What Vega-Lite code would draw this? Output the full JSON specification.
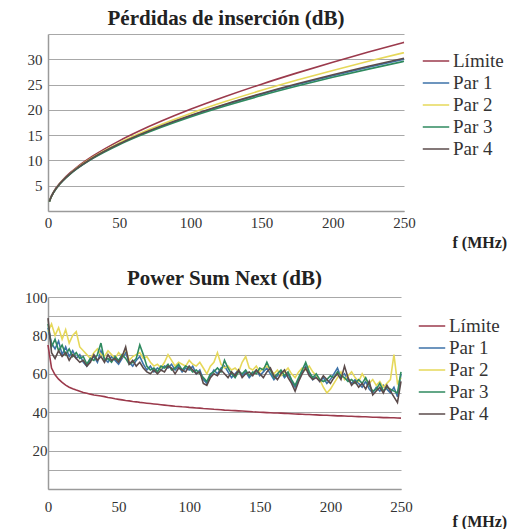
{
  "$schema": "https://vega.github.io/schema/vega-lite/v6.json",
  "background": "white",
  "padding": {"left": 24, "top": 8, "right": 0, "bottom": 0},
  "spacing": 18,
  "config": {
    "font": "Liberation Serif, Times New Roman, serif",
    "view": {"stroke": null},
    "axis": {"labelFont": "Liberation Serif, Times New Roman, serif", "labelFontSize": 15, "labelColor": "#333333", "domainColor": "#9a9a9a", "domainWidth": 1.5, "gridColor": "#a8a8a8", "gridWidth": 1.2, "ticks": false, "titleFont": "Liberation Serif, Times New Roman, serif", "titleColor": "#222222"},
    "legend": {"labelFont": "Liberation Serif, Times New Roman, serif", "labelFontSize": 19, "labelColor": "#333333", "symbolType": "stroke", "symbolStrokeWidth": 1.5},
    "title": {"font": "Liberation Serif, Times New Roman, serif", "fontSize": 21, "fontWeight": "bold", "color": "#222222"}
  },
  "resolve": {"legend": {"color": "independent"}},
  "datasets": {
    "il": [
      {"f": 1, "Límite": 2.06, "Par 1": 1.85, "Par 2": 1.85, "Par 3": 1.84, "Par 4": 1.86},
      {"f": 2, "Límite": 2.77, "Par 1": 2.62, "Par 2": 2.63, "Par 3": 2.61, "Par 4": 2.63},
      {"f": 4, "Límite": 3.84, "Par 1": 3.71, "Par 2": 3.72, "Par 3": 3.69, "Par 4": 3.72},
      {"f": 8, "Límite": 5.40, "Par 1": 5.26, "Par 2": 5.29, "Par 3": 5.22, "Par 4": 5.28},
      {"f": 10, "Límite": 6.04, "Par 1": 5.88, "Par 2": 5.92, "Par 3": 5.84, "Par 4": 5.90},
      {"f": 16, "Límite": 7.67, "Par 1": 7.45, "Par 2": 7.51, "Par 3": 7.39, "Par 4": 7.48},
      {"f": 20, "Límite": 8.60, "Par 1": 8.33, "Par 2": 8.42, "Par 3": 8.27, "Par 4": 8.37},
      {"f": 31.25, "Límite": 10.83, "Par 1": 10.44, "Par 2": 10.58, "Par 3": 10.35, "Par 4": 10.48},
      {"f": 50, "Límite": 13.87, "Par 1": 13.23, "Par 2": 13.47, "Par 3": 13.11, "Par 4": 13.29},
      {"f": 62.5, "Límite": 15.61, "Par 1": 14.81, "Par 2": 15.12, "Par 3": 14.67, "Par 4": 14.88},
      {"f": 100, "Límite": 20.10, "Par 1": 18.80, "Par 2": 19.30, "Par 3": 18.60, "Par 4": 18.90},
      {"f": 125, "Límite": 22.69, "Par 1": 21.06, "Par 2": 21.69, "Par 3": 20.82, "Par 4": 21.18},
      {"f": 150, "Límite": 25.08, "Par 1": 23.11, "Par 2": 23.87, "Par 3": 22.84, "Par 4": 23.24},
      {"f": 175, "Límite": 27.31, "Par 1": 25.00, "Par 2": 25.90, "Par 3": 24.70, "Par 4": 25.15},
      {"f": 200, "Límite": 29.42, "Par 1": 26.76, "Par 2": 27.80, "Par 3": 26.43, "Par 4": 26.93},
      {"f": 225, "Límite": 31.42, "Par 1": 28.43, "Par 2": 29.60, "Par 3": 28.06, "Par 4": 28.61},
      {"f": 250, "Límite": 33.34, "Par 1": 30.00, "Par 2": 31.31, "Par 3": 29.60, "Par 4": 30.21}
    ],
    "psn": [
      {"f": 0, "Límite": 75, "Par 1": 84, "Par 2": 82, "Par 3": 86, "Par 4": 89},
      {"f": 2.5, "Límite": 63, "Par 1": 76, "Par 2": 86, "Par 3": 74, "Par 4": 71},
      {"f": 5, "Límite": 59.5, "Par 1": 73, "Par 2": 80, "Par 3": 78, "Par 4": 68},
      {"f": 7.5, "Límite": 57.2, "Par 1": 77, "Par 2": 84, "Par 3": 72, "Par 4": 72},
      {"f": 10, "Límite": 55.5, "Par 1": 70, "Par 2": 78, "Par 3": 75, "Par 4": 69},
      {"f": 12.5, "Límite": 54.1, "Par 1": 74, "Par 2": 83, "Par 3": 70, "Par 4": 71},
      {"f": 15, "Límite": 53.0, "Par 1": 69, "Par 2": 76, "Par 3": 73, "Par 4": 67},
      {"f": 17.5, "Límite": 52.2, "Par 1": 72, "Par 2": 80, "Par 3": 69, "Par 4": 70},
      {"f": 20, "Límite": 51.5, "Par 1": 68, "Par 2": 82, "Par 3": 71, "Par 4": 68},
      {"f": 22.5, "Límite": 50.9, "Par 1": 70, "Par 2": 74, "Par 3": 68, "Par 4": 66},
      {"f": 25, "Límite": 50.3, "Par 1": 66, "Par 2": 72, "Par 3": 69, "Par 4": 67},
      {"f": 27.5, "Límite": 49.9, "Par 1": 64, "Par 2": 70, "Par 3": 65, "Par 4": 64},
      {"f": 30, "Límite": 49.4, "Par 1": 67, "Par 2": 68, "Par 3": 68, "Par 4": 66},
      {"f": 32.5, "Límite": 49.0, "Par 1": 69, "Par 2": 71, "Par 3": 67, "Par 4": 70},
      {"f": 35, "Límite": 48.7, "Par 1": 66, "Par 2": 73, "Par 3": 70, "Par 4": 67},
      {"f": 37.5, "Límite": 48.4, "Par 1": 72, "Par 2": 70, "Par 3": 76, "Par 4": 69},
      {"f": 40, "Límite": 48.1, "Par 1": 68, "Par 2": 69, "Par 3": 67, "Par 4": 66},
      {"f": 42.5, "Límite": 47.7, "Par 1": 66, "Par 2": 72, "Par 3": 68, "Par 4": 70},
      {"f": 45, "Límite": 47.4, "Par 1": 69, "Par 2": 70, "Par 3": 66, "Par 4": 67},
      {"f": 47.5, "Límite": 47.0, "Par 1": 67, "Par 2": 68, "Par 3": 69, "Par 4": 68},
      {"f": 50, "Límite": 46.7, "Par 1": 65, "Par 2": 71, "Par 3": 67, "Par 4": 66},
      {"f": 52.5, "Límite": 46.4, "Par 1": 68, "Par 2": 69, "Par 3": 70, "Par 4": 69},
      {"f": 55, "Límite": 46.1, "Par 1": 71, "Par 2": 73, "Par 3": 68, "Par 4": 74},
      {"f": 57.5, "Límite": 45.9, "Par 1": 66, "Par 2": 67, "Par 3": 65, "Par 4": 65},
      {"f": 60, "Límite": 45.6, "Par 1": 64, "Par 2": 69, "Par 3": 66, "Par 4": 67},
      {"f": 62.5, "Límite": 45.4, "Par 1": 67, "Par 2": 70, "Par 3": 68, "Par 4": 64},
      {"f": 65, "Límite": 45.1, "Par 1": 69, "Par 2": 71, "Par 3": 75, "Par 4": 66},
      {"f": 67.5, "Límite": 44.9, "Par 1": 65, "Par 2": 68, "Par 3": 70, "Par 4": 63},
      {"f": 70, "Límite": 44.7, "Par 1": 62, "Par 2": 69, "Par 3": 64, "Par 4": 61},
      {"f": 72.5, "Límite": 44.5, "Par 1": 64, "Par 2": 66, "Par 3": 62, "Par 4": 60},
      {"f": 75, "Límite": 44.3, "Par 1": 61, "Par 2": 64, "Par 3": 63, "Par 4": 62},
      {"f": 77.5, "Límite": 44.1, "Par 1": 63, "Par 2": 65, "Par 3": 61, "Par 4": 60},
      {"f": 80, "Límite": 43.9, "Par 1": 62, "Par 2": 63, "Par 3": 64, "Par 4": 62},
      {"f": 82.5, "Límite": 43.7, "Par 1": 64, "Par 2": 66, "Par 3": 63, "Par 4": 61},
      {"f": 85, "Límite": 43.5, "Par 1": 63, "Par 2": 70, "Par 3": 65, "Par 4": 64},
      {"f": 87.5, "Límite": 43.3, "Par 1": 65, "Par 2": 67, "Par 3": 62, "Par 4": 63},
      {"f": 90, "Límite": 43.1, "Par 1": 62, "Par 2": 64, "Par 3": 63, "Par 4": 60},
      {"f": 92.5, "Límite": 43.0, "Par 1": 64, "Par 2": 66, "Par 3": 65, "Par 4": 63},
      {"f": 95, "Límite": 42.8, "Par 1": 61, "Par 2": 65, "Par 3": 62, "Par 4": 62},
      {"f": 97.5, "Límite": 42.7, "Par 1": 63, "Par 2": 64, "Par 3": 64, "Par 4": 61},
      {"f": 100, "Límite": 42.5, "Par 1": 62, "Par 2": 67, "Par 3": 63, "Par 4": 64},
      {"f": 102.5, "Límite": 42.4, "Par 1": 64, "Par 2": 65, "Par 3": 61, "Par 4": 62},
      {"f": 105, "Límite": 42.2, "Par 1": 60, "Par 2": 64, "Par 3": 62, "Par 4": 60},
      {"f": 107.5, "Límite": 42.1, "Par 1": 62, "Par 2": 66, "Par 3": 60, "Par 4": 61},
      {"f": 110, "Límite": 41.9, "Par 1": 57, "Par 2": 63, "Par 3": 58, "Par 4": 55},
      {"f": 112.5, "Límite": 41.8, "Par 1": 55, "Par 2": 60, "Par 3": 56, "Par 4": 54},
      {"f": 115, "Límite": 41.7, "Par 1": 59, "Par 2": 64, "Par 3": 60, "Par 4": 58},
      {"f": 117.5, "Límite": 41.5, "Par 1": 62, "Par 2": 66, "Par 3": 61, "Par 4": 60},
      {"f": 120, "Límite": 41.4, "Par 1": 60, "Par 2": 71, "Par 3": 63, "Par 4": 59},
      {"f": 122.5, "Límite": 41.3, "Par 1": 63, "Par 2": 65, "Par 3": 61, "Par 4": 62},
      {"f": 125, "Límite": 41.1, "Par 1": 64, "Par 2": 63, "Par 3": 67, "Par 4": 60},
      {"f": 127.5, "Límite": 41.0, "Par 1": 61, "Par 2": 64, "Par 3": 63, "Par 4": 58},
      {"f": 130, "Límite": 40.9, "Par 1": 58, "Par 2": 62, "Par 3": 60, "Par 4": 61},
      {"f": 132.5, "Límite": 40.8, "Par 1": 60, "Par 2": 63, "Par 3": 58, "Par 4": 59},
      {"f": 135, "Límite": 40.7, "Par 1": 62, "Par 2": 61, "Par 3": 61, "Par 4": 62},
      {"f": 137.5, "Límite": 40.6, "Par 1": 59, "Par 2": 66, "Par 3": 60, "Par 4": 58},
      {"f": 140, "Límite": 40.5, "Par 1": 61, "Par 2": 69, "Par 3": 62, "Par 4": 60},
      {"f": 142.5, "Límite": 40.4, "Par 1": 58, "Par 2": 63, "Par 3": 59, "Par 4": 61},
      {"f": 145, "Límite": 40.2, "Par 1": 60, "Par 2": 62, "Par 3": 61, "Par 4": 59},
      {"f": 147.5, "Límite": 40.1, "Par 1": 62, "Par 2": 64, "Par 3": 60, "Par 4": 62},
      {"f": 150, "Límite": 40.0, "Par 1": 59, "Par 2": 61, "Par 3": 63, "Par 4": 60},
      {"f": 152.5, "Límite": 39.9, "Par 1": 61, "Par 2": 63, "Par 3": 62, "Par 4": 58},
      {"f": 155, "Límite": 39.8, "Par 1": 63, "Par 2": 64, "Par 3": 66, "Par 4": 61},
      {"f": 157.5, "Límite": 39.7, "Par 1": 60, "Par 2": 62, "Par 3": 62, "Par 4": 63},
      {"f": 160, "Límite": 39.6, "Par 1": 57, "Par 2": 60, "Par 3": 58, "Par 4": 59},
      {"f": 162.5, "Límite": 39.6, "Par 1": 59, "Par 2": 62, "Par 3": 60, "Par 4": 57},
      {"f": 165, "Límite": 39.5, "Par 1": 61, "Par 2": 59, "Par 3": 62, "Par 4": 60},
      {"f": 167.5, "Límite": 39.4, "Par 1": 58, "Par 2": 61, "Par 3": 59, "Par 4": 62},
      {"f": 170, "Límite": 39.3, "Par 1": 60, "Par 2": 63, "Par 3": 61, "Par 4": 58},
      {"f": 172.5, "Límite": 39.2, "Par 1": 56, "Par 2": 60, "Par 3": 57, "Par 4": 55},
      {"f": 175, "Límite": 39.1, "Par 1": 53, "Par 2": 58, "Par 3": 54, "Par 4": 51},
      {"f": 177.5, "Límite": 39.0, "Par 1": 57, "Par 2": 61, "Par 3": 58, "Par 4": 56},
      {"f": 180, "Límite": 38.9, "Par 1": 61, "Par 2": 63, "Par 3": 62, "Par 4": 60},
      {"f": 182.5, "Límite": 38.8, "Par 1": 64, "Par 2": 62, "Par 3": 66, "Par 4": 63},
      {"f": 185, "Límite": 38.8, "Par 1": 60, "Par 2": 64, "Par 3": 61, "Par 4": 59},
      {"f": 187.5, "Límite": 38.7, "Par 1": 57, "Par 2": 61, "Par 3": 58, "Par 4": 57},
      {"f": 190, "Límite": 38.6, "Par 1": 59, "Par 2": 59, "Par 3": 60, "Par 4": 58},
      {"f": 192.5, "Límite": 38.5, "Par 1": 56, "Par 2": 57, "Par 3": 57, "Par 4": 56},
      {"f": 195, "Límite": 38.4, "Par 1": 58, "Par 2": 53, "Par 3": 56, "Par 4": 59},
      {"f": 197.5, "Límite": 38.4, "Par 1": 55, "Par 2": 50, "Par 3": 57, "Par 4": 57},
      {"f": 200, "Límite": 38.3, "Par 1": 57, "Par 2": 52, "Par 3": 59, "Par 4": 55},
      {"f": 202.5, "Límite": 38.2, "Par 1": 60, "Par 2": 55, "Par 3": 58, "Par 4": 58},
      {"f": 205, "Límite": 38.1, "Par 1": 63, "Par 2": 58, "Par 3": 61, "Par 4": 60},
      {"f": 207.5, "Límite": 38.1, "Par 1": 58, "Par 2": 61, "Par 3": 59, "Par 4": 57},
      {"f": 210, "Límite": 38.0, "Par 1": 60, "Par 2": 57, "Par 3": 58, "Par 4": 64},
      {"f": 212.5, "Límite": 37.9, "Par 1": 57, "Par 2": 59, "Par 3": 56, "Par 4": 58},
      {"f": 215, "Límite": 37.9, "Par 1": 55, "Par 2": 61, "Par 3": 57, "Par 4": 54},
      {"f": 217.5, "Límite": 37.8, "Par 1": 57, "Par 2": 58, "Par 3": 55, "Par 4": 56},
      {"f": 220, "Límite": 37.7, "Par 1": 55, "Par 2": 56, "Par 3": 57, "Par 4": 53},
      {"f": 222.5, "Límite": 37.6, "Par 1": 53, "Par 2": 60, "Par 3": 55, "Par 4": 55},
      {"f": 225, "Límite": 37.6, "Par 1": 56, "Par 2": 57, "Par 3": 58, "Par 4": 52},
      {"f": 227.5, "Límite": 37.5, "Par 1": 52, "Par 2": 55, "Par 3": 54, "Par 4": 56},
      {"f": 230, "Límite": 37.4, "Par 1": 50, "Par 2": 57, "Par 3": 51, "Par 4": 49},
      {"f": 232.5, "Límite": 37.4, "Par 1": 53, "Par 2": 54, "Par 3": 52, "Par 4": 51},
      {"f": 235, "Límite": 37.3, "Par 1": 51, "Par 2": 56, "Par 3": 55, "Par 4": 53},
      {"f": 237.5, "Límite": 37.2, "Par 1": 54, "Par 2": 53, "Par 3": 51, "Par 4": 50},
      {"f": 240, "Límite": 37.2, "Par 1": 52, "Par 2": 55, "Par 3": 53, "Par 4": 54},
      {"f": 242.5, "Límite": 37.1, "Par 1": 50, "Par 2": 57, "Par 3": 52, "Par 4": 51},
      {"f": 245, "Límite": 37.1, "Par 1": 53, "Par 2": 70, "Par 3": 51, "Par 4": 48},
      {"f": 247.5, "Límite": 37.0, "Par 1": 48, "Par 2": 55, "Par 3": 50, "Par 4": 45},
      {"f": 250, "Límite": 36.9, "Par 1": 60, "Par 2": 58, "Par 3": 61, "Par 4": 56}
    ]
  },
  "vconcat": [
    {
      "title": {"text": "Pérdidas de inserción (dB)", "frame": "group", "anchor": "middle", "offset": 5},
      "width": 356,
      "height": 177,
      "data": {"name": "il"},
      "transform": [{"fold": ["Límite", "Par 1", "Par 2", "Par 3", "Par 4"], "as": ["serie", "valor"]}],
      "mark": {"type": "line", "strokeWidth": 1.6, "interpolate": "monotone"},
      "encoding": {
        "x": {"field": "f", "type": "quantitative", "scale": {"domain": [0, 250], "nice": false},
          "axis": {"values": [0, 50, 100, 150, 200, 250], "grid": false, "labelPadding": 4, "labelFlush": false,
            "title": "f (MHz)", "titleFontSize": 16, "titleFontWeight": "bold", "titleAlign": "left", "titleBaseline": "alphabetic", "titleX": 404, "titleY": 36}},
        "y": {"field": "valor", "type": "quantitative", "scale": {"domain": [0, 35], "nice": false},
          "axis": {"values": [0, 5, 10, 15, 20, 25, 30, 35], "labelExpr": "datum.value == 0 || datum.value == 35 ? '' : datum.label", "grid": true, "title": null, "labelPadding": 6}},
        "color": {"field": "serie", "type": "nominal",
          "scale": {"domain": ["Límite", "Par 1", "Par 2", "Par 3", "Par 4"], "range": ["#9b3a4c", "#3d72a8", "#e6d85a", "#2f8a5f", "#5b4b4b"]},
          "legend": {"orient": "none", "legendX": 374, "legendY": 16, "title": null, "symbolSize": 700, "rowPadding": 0, "clipHeight": 22, "labelOffset": 3}}
      }
    },
    {
      "title": {"text": "Power Sum Next (dB)", "frame": "group", "anchor": "middle", "offset": 1},
      "width": 353,
      "height": 192,
      "data": {"name": "psn"},
      "transform": [{"fold": ["Límite", "Par 1", "Par 2", "Par 3", "Par 4"], "as": ["serie", "valor"]}],
      "mark": {"type": "line", "strokeWidth": 1.6},
      "encoding": {
        "x": {"field": "f", "type": "quantitative", "scale": {"domain": [0, 250], "nice": false},
          "axis": {"values": [0, 50, 100, 150, 200, 250], "grid": false, "labelPadding": 10, "labelFlush": false,
            "title": "f (MHz)", "titleFontSize": 16, "titleFontWeight": "bold", "titleAlign": "left", "titleBaseline": "alphabetic", "titleX": 404, "titleY": 37}},
        "y": {"field": "valor", "type": "quantitative", "scale": {"domain": [0, 100], "nice": false},
          "axis": {"values": [0, 10, 20, 30, 40, 50, 60, 70, 80, 90, 100], "labelExpr": "datum.value % 20 == 0 && datum.value > 0 ? datum.label : ''", "grid": true, "title": null, "labelPadding": 1}},
        "color": {"field": "serie", "type": "nominal",
          "scale": {"domain": ["Límite", "Par 1", "Par 2", "Par 3", "Par 4"], "range": ["#9b3a4c", "#3d72a8", "#e6d85a", "#2f8a5f", "#5b4b4b"]},
          "legend": {"orient": "none", "legendX": 370, "legendY": 18, "title": null, "symbolSize": 700, "rowPadding": 0, "clipHeight": 22, "labelOffset": 3}}
      }
    }
  ]
}
